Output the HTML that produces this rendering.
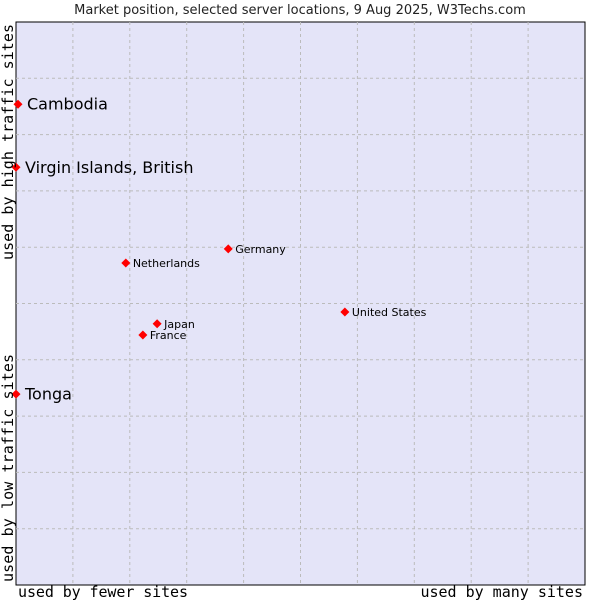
<!DOCTYPE html>
<html><head><meta charset="utf-8"><style>
body{margin:0;background:#fff;}
svg{display:block;}
</style></head><body>
<svg id="chart" width="600" height="600" xmlns="http://www.w3.org/2000/svg">
<text x="300" y="14" text-anchor="middle" font-family="DejaVu Sans, sans-serif" font-size="13" fill="#222">Market position, selected server locations, 9 Aug 2025, W3Techs.com</text>
<rect x="16" y="22" width="569" height="563" fill="#e4e4f8" stroke="#000" stroke-width="1"/>
<g id="grid"></g>
<g id="points"></g>
<text x="18" y="597" font-family="DejaVu Sans Mono, monospace" font-size="15" fill="#000" textLength="170">used by fewer sites</text>
<text x="583" y="597" text-anchor="end" font-family="DejaVu Sans Mono, monospace" font-size="15" fill="#000">used by many sites</text>
<text transform="translate(13,582) rotate(-90)" font-family="DejaVu Sans Mono, monospace" font-size="15" fill="#000" textLength="228">used by low traffic sites</text>
<text transform="translate(13,260) rotate(-90)" font-family="DejaVu Sans Mono, monospace" font-size="15" fill="#000" textLength="236">used by high traffic sites</text>
</svg>
<script>
const names = ["Cambodia","Virgin Islands, British","Tonga","Netherlands","Germany","United States","Japan","France"];
const xValues = [0.35,0,0,19.3,37.3,57.8,24.8,22.3];
const yValues = [85.4,74.2,33.9,57.2,59.7,48.5,46.4,44.4];
const bigLabel = [true,true,true,false,false,false,false,false];
const L=16,T=22,W=569,H=563;
const sx=v=>L+v/100*W, sy=v=>T+H-v/100*H;
const NS="http://www.w3.org/2000/svg";
const grid=document.getElementById('grid'), pts=document.getElementById('points');
for(let i=1;i<10;i++){
  const v=document.createElementNS(NS,'line');
  v.setAttribute('x1',sx(i*10));v.setAttribute('x2',sx(i*10));v.setAttribute('y1',T);v.setAttribute('y2',T+H);
  v.setAttribute('stroke','#bbb');v.setAttribute('stroke-dasharray','3,3');
  
  
  grid.appendChild(v);
  const h=document.createElementNS(NS,'line');
  h.setAttribute('y1',sy(i*10));h.setAttribute('y2',sy(i*10));h.setAttribute('x1',L);h.setAttribute('x2',L+W);
  h.setAttribute('stroke','#bbb');h.setAttribute('stroke-dasharray','3,3');
  
  
  grid.appendChild(h);
}
names.forEach((n,i)=>{
  const x=sx(xValues[i]), y=sy(yValues[i]);
  const d=document.createElementNS(NS,'path');
  d.setAttribute('d',`M${x-4.5},${y} L${x},${y-4.5} L${x+4.5},${y} L${x},${y+4.5} Z`);
  d.setAttribute('fill','#f00');
  
  
  pts.appendChild(d);
  const t=document.createElementNS(NS,'text');
  const big=bigLabel[i];
  t.setAttribute('x',x+(big?9:7));
  t.setAttribute('y',y+(big?5.5:4));
  t.setAttribute('font-family','DejaVu Sans, sans-serif');
  t.setAttribute('font-size',big?16:11);
  t.setAttribute('fill','#000');
  t.textContent=n;
  
  
  pts.appendChild(t);
});
</script>
</body></html>
